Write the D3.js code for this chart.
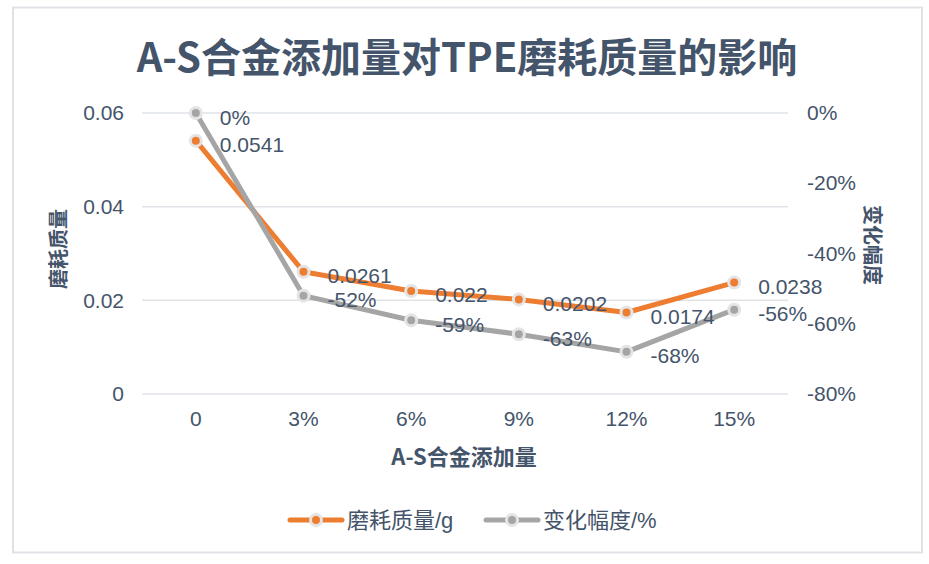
<!DOCTYPE html>
<html><head><meta charset="utf-8">
<script src="https://cdn.jsdelivr.net/npm/d3@7"></script>
<style>
body{margin:0;background:#fff;}
text{font-family:"Liberation Sans","Noto Sans CJK SC",sans-serif;fill:#44546a;}
</style></head><body>
<svg id="c" width="929" height="564"></svg>
<script>
const categories = ["0","3%","6%","9%","12%","15%"];
const massValues = [0.0541,0.0261,0.022,0.0202,0.0174,0.0238];
const changeValues = [0,-0.52,-0.59,-0.63,-0.68,-0.56];
const leftTicks = [0,0.02,0.04,0.06];
const rightTicks = [0,-0.2,-0.4,-0.6,-0.8];
const seriesNames = ["磨耗质量/g","变化幅度/%"];
const title = "A-S合金添加量对TPE磨耗质量的影响";
const xTitle = "A-S合金添加量";
const yLeftTitle = "磨耗质量";
const yRightTitle = "变化幅度";

const svg = d3.select("#c");
const orange = "#ed7d31", gray = "#a5a5a5", txt = "#44546a";
const L = 142, R = 788, T = 113, B = 394;

svg.append("rect").attr("x",13).attr("y",7.5).attr("width",909).attr("height",545)
  .attr("fill","#fff").attr("stroke","#dfe3e8").attr("stroke-width",2);

const x = d3.scaleBand().domain(categories).range([L,R]).padding(0);
const yL = d3.scaleLinear().domain([0,0.06]).range([B,T]);
const yR = d3.scaleLinear().domain([-0.8,0]).range([B,T]);
const cx = d => x(d) + x.bandwidth()/2;

svg.append("g").selectAll("line").data(leftTicks).join("line")
  .attr("x1",L).attr("x2",R).attr("y1",d=>yL(d)).attr("y2",d=>yL(d))
  .attr("stroke","#dfe3e8").attr("stroke-width",1.5);

const gl = svg.append("g").attr("transform",`translate(${L},0)`)
  .call(d3.axisLeft(yL).tickValues(leftTicks).tickSize(0).tickPadding(18).tickFormat(d=>d===0?"0":d3.format(".2f")(d)));
gl.select(".domain").remove();
gl.selectAll("text").style("font-size","21px").attr("fill",txt).style("font-family","Liberation Sans");

const gr = svg.append("g").attr("transform",`translate(${R},0)`)
  .call(d3.axisRight(yR).tickValues(rightTicks).tickSize(0).tickPadding(19).tickFormat(d=>Math.round(d*100)+"%"));
gr.select(".domain").remove();
gr.selectAll("text").style("font-size","21px").attr("fill",txt).style("font-family","Liberation Sans");

const gx = svg.append("g").attr("transform",`translate(0,${B})`)
  .call(d3.axisBottom(x).tickSize(0).tickPadding(17));
gx.select(".domain").remove();
gx.selectAll("text").style("font-size","21px").attr("fill",txt).style("font-family","Liberation Sans");

svg.append("text").attr("x",467).attr("y",55).attr("text-anchor","middle").attr("dominant-baseline","central")
  .style("font-family","Noto Sans CJK SC").style("font-weight","bold").style("font-size","40px").attr("fill",txt).text(title);

svg.append("text").attr("x",464).attr("y",455).attr("text-anchor","middle").attr("dominant-baseline","central")
  .style("font-family","Noto Sans CJK SC").style("font-weight","bold").style("font-size","22px").attr("fill",txt).text(xTitle);
svg.append("text").attr("transform","translate(57,249) rotate(-90)").attr("text-anchor","middle").attr("dominant-baseline","central")
  .style("font-family","Noto Sans CJK SC").style("font-weight","bold").style("font-size","20px").attr("fill",txt).text(yLeftTitle);
svg.append("text").attr("transform","translate(873,245) rotate(90)").attr("text-anchor","middle").attr("dominant-baseline","central")
  .style("font-family","Noto Sans CJK SC").style("font-weight","bold").style("font-size","20px").attr("fill",txt).text(yRightTitle);

function drawSeries(vals, scale, color){
  const pts = categories.map((c,i)=>[cx(c), scale(vals[i])]);
  svg.append("path").attr("d",d3.line()(pts)).attr("fill","none").attr("stroke",color)
    .attr("stroke-width",5).attr("stroke-linejoin","round").attr("stroke-linecap","round");
  svg.append("g").selectAll("circle").data(pts).join("circle")
    .attr("cx",d=>d[0]).attr("cy",d=>d[1]).attr("r",5.5).attr("fill",color)
    .attr("stroke","#e4e4e4").attr("stroke-width",3);
  return pts;
}
const pM = drawSeries(massValues, yL, orange);
const pC = drawSeries(changeValues, yR, gray);

svg.append("g").selectAll("text").data(massValues).join("text")
  .attr("x",(d,i)=>pM[i][0]+24).attr("y",(d,i)=>pM[i][1]+4).attr("dominant-baseline","central")
  .style("font-size","21px").attr("fill",txt).text(d=>String(d));
svg.append("g").selectAll("text").data(changeValues).join("text")
  .attr("x",(d,i)=>pC[i][0]+24).attr("y",(d,i)=>pC[i][1]+4).attr("dominant-baseline","central")
  .style("font-size","21px").attr("fill",txt).text(d=>Math.round(d*100)+"%");

const legend = [{name:seriesNames[0],color:orange,x0:290},{name:seriesNames[1],color:gray,x0:486}];
legend.forEach(l=>{
  const g = svg.append("g");
  g.append("line").attr("x1",l.x0).attr("x2",l.x0+52).attr("y1",520).attr("y2",520)
    .attr("stroke",l.color).attr("stroke-width",5).attr("stroke-linecap","round");
  g.append("circle").attr("cx",l.x0+26).attr("cy",520).attr("r",5.5).attr("fill",l.color)
    .attr("stroke","#e4e4e4").attr("stroke-width",3);
  g.append("text").attr("x",l.x0+57).attr("y",520).attr("dominant-baseline","central")
    .style("font-size","22px").attr("fill",txt).text(l.name);
});
</script></body></html>
